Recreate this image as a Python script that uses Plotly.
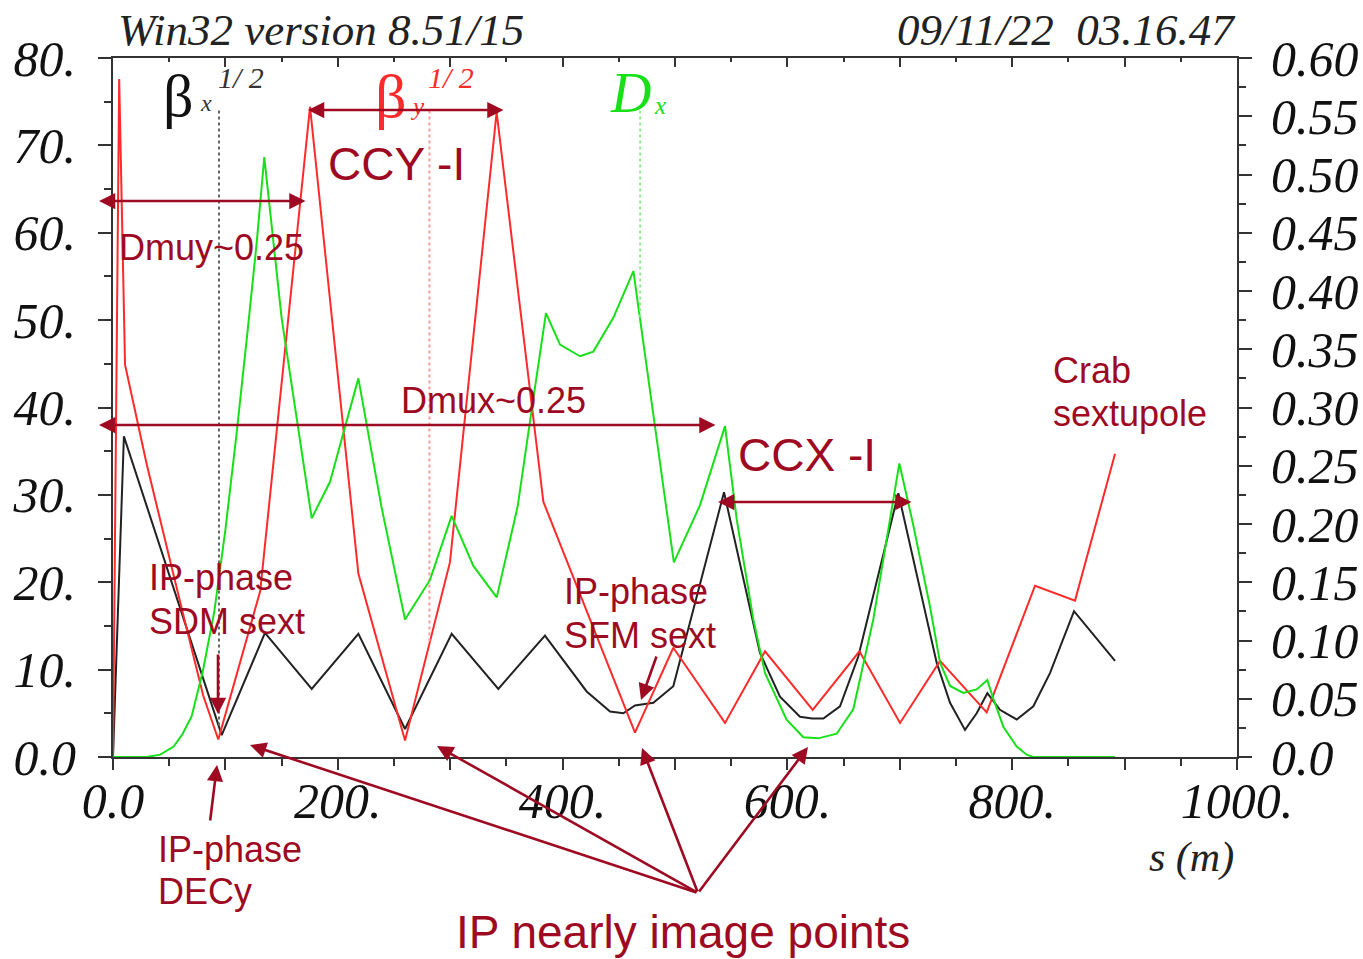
import numpy as np
import plotly.graph_objects as go

# ---- optics along the beamline (s in m) ----
s_bx = [0, 9.7, 96.7, 135.2, 176.8, 218.3, 259.8, 301.3, 342.8, 384.3, 421.4, 442.2,
        454, 464.4, 480.7, 498.5, 543.6, 575.6, 593.4, 611.2, 622, 632, 646.8, 663.1,
        698.7, 732.8, 744.7, 758, 768.4, 777.9, 789.1, 804, 818.8, 833.6, 855, 891.5]
sqrt_betx = [0, 36.7, 2.5, 14.2, 7.8, 14.1, 3.2, 14.1, 7.8, 13.9, 7.5, 5.2,
             5.0, 5.9, 6.2, 8.1, 30.3, 11.9, 6.9, 4.6, 4.4, 4.4, 5.8, 11.5,
             30.2, 10.8, 6.2, 3.1, 5.0, 7.3, 5.4, 4.3, 5.8, 9.6, 16.7, 11.0]

s_by = [0, 5.5, 10.7, 30, 60, 80.3, 93.7, 131, 175.3, 218.3, 259.8, 299.8, 341.3,
        382.9, 464.4, 498.5, 544.5, 580.1, 622.5, 664.1, 700.2, 735.8, 777.3,
        820.3, 855.9, 891.5]
sqrt_bety = [0, 77.6, 44.9, 33.5, 17.6, 7.0, 2.0, 19.0, 74.4, 21.0, 1.9, 22.3, 73.8,
             29.2, 2.8, 12.5, 3.9, 12.1, 5.4, 12.1, 3.9, 11.0, 5.1,
             19.6, 17.9, 34.7]

s_dx = [0, 30, 42, 54, 62, 70, 80, 90, 100, 110, 120, 128, 134.6, 150, 176.8, 193,
        218.3, 239, 259.8, 282, 301.3, 320.6, 341.4, 360, 371, 385.2, 397.7, 415.5,
        427.3, 445.1, 463, 499, 522.2, 544.5, 554.9, 569.7, 580.1, 599.3, 614.2,
        627.5, 643.8, 658.6, 676.4, 699.6, 712, 726.9, 735.8, 744.7, 756.5, 768.4,
        777.9, 783.2, 792.1, 804, 812.9, 818.8, 891.5]
disp_x = [0.000, 0.000, 0.002, 0.009, 0.020, 0.035, 0.074, 0.124, 0.195, 0.278, 0.368,
          0.443, 0.515, 0.377, 0.205, 0.236, 0.325, 0.214, 0.118, 0.152, 0.207, 0.164,
          0.137, 0.215, 0.288, 0.381, 0.354, 0.344, 0.348, 0.377, 0.417, 0.167, 0.216,
          0.284, 0.204, 0.118, 0.072, 0.032, 0.017, 0.016, 0.020, 0.041, 0.118, 0.252,
          0.199, 0.129, 0.081, 0.061, 0.055, 0.058, 0.066, 0.050, 0.026, 0.009, 0.002,
          0.000, 0.000]

# label marker positions (s) and tick labels
mark_bx, mark_by, mark_dx = 94.3, 281.5, 469.0
mark_top = 74.0
x_ticks = [0, 100, 200, 300, 400, 500, 600, 700, 800, 900, 1000]
x_labels = ["0.0", "", "200.", "", "400.", "", "600.", "", "800.", "", "1000."]
y_ticks = [0, 10, 20, 30, 40, 50, 60, 70, 80]
y_labels = ["0.0", "10.", "20.", "30.", "40.", "50.", "60.", "70.", "80."]
y2_ticks = [0, 0.05, 0.10, 0.15, 0.20, 0.25, 0.30, 0.35, 0.40, 0.45, 0.50, 0.55, 0.60]
y2_labels = ["0.0", "0.05", "0.10", "0.15", "0.20", "0.25", "0.30", "0.35", "0.40",
             "0.45", "0.50", "0.55", "0.60"]

W, H = 1363, 959
ML, MR, MT, MB = 113, 126, 58, 202
PW, PH = W - ML - MR, H - MT - MB


def px(x):
    return (x - ML) / PW


def py(y):
    return (H - MB - y) / PH


BLACK = "#222222"
RED = "#ff2a2a"
GREEN = "#18e018"
DR = "#9e0a22"
SERIF = "Liberation Serif"
SANS = "Liberation Sans"
AX = "#333333"

fig = go.Figure()

fig.add_trace(go.Scatter(x=s_bx, y=sqrt_betx, mode="lines",
                         line=dict(color=BLACK, width=2), showlegend=False))
fig.add_trace(go.Scatter(x=s_by, y=sqrt_bety, mode="lines",
                         line=dict(color=RED, width=2), showlegend=False))
fig.add_trace(go.Scatter(x=s_dx, y=disp_x, mode="lines", yaxis="y2",
                         line=dict(color=GREEN, width=2), showlegend=False))

# dotted markers from the curve labels down to each curve
fig.add_trace(go.Scatter(x=[mark_bx, mark_bx],
                         y=[mark_top, float(np.interp(mark_bx, s_bx, sqrt_betx))],
                         mode="lines", line=dict(color="#666666", width=2, dash="dot"),
                         showlegend=False))
fig.add_trace(go.Scatter(x=[mark_by, mark_by],
                         y=[mark_top, float(np.interp(mark_by, s_by, sqrt_bety))],
                         mode="lines", line=dict(color="#ff9a9a", width=2, dash="dot"),
                         showlegend=False))
fig.add_trace(go.Scatter(x=[mark_dx, mark_dx],
                         y=[mark_top * 0.6 / 80, float(np.interp(mark_dx, s_dx, disp_x))],
                         yaxis="y2", mode="lines",
                         line=dict(color="#8ff08f", width=2, dash="dot"),
                         showlegend=False))
# top frame axis carrier
fig.add_trace(go.Scatter(x=[0], y=[0], xaxis="x2", mode="markers",
                         marker=dict(size=0.1, opacity=0), showlegend=False,
                         hoverinfo="skip"))

tickfont = dict(family=SERIF, size=50, style="italic", color="#111111")

fig.update_layout(
    width=W, height=H,
    margin=dict(l=ML, r=MR, t=MT, b=MB, autoexpand=False),
    paper_bgcolor="white", plot_bgcolor="white",
    xaxis=dict(range=[0, 1000], tickmode="array", tickvals=x_ticks, ticktext=x_labels,
               ticks="outside", ticklen=11, tickwidth=2, tickcolor=AX,
               minor=dict(tickvals=[50 + 100 * i for i in range(10)], ticks="outside",
                          ticklen=7, tickwidth=2, tickcolor=AX),
               showline=True, linecolor=AX, linewidth=2, showgrid=False, zeroline=False,
               tickfont=tickfont, ticklabelstandoff=-12, automargin=False,
               fixedrange=True),
    xaxis2=dict(range=[0, 1000], overlaying="x", side="top", anchor="y",
                tickmode="array", tickvals=x_ticks, ticks="inside", ticklen=9,
                tickwidth=2, tickcolor=AX,
                minor=dict(tickvals=[50 + 100 * i for i in range(10)], ticks="inside",
                           ticklen=4, tickwidth=2, tickcolor=AX),
                showticklabels=False, showline=True, linecolor=AX, linewidth=2,
                showgrid=False, zeroline=False, automargin=False, fixedrange=True),
    yaxis=dict(range=[0, 80], tickmode="array", tickvals=y_ticks, ticktext=y_labels,
               ticks="outside", ticklen=13, tickwidth=2, tickcolor=AX,
               minor=dict(tickvals=[5 + 10 * i for i in range(8)], ticks="outside",
                          ticklen=7, tickwidth=2, tickcolor=AX),
               showline=True, linecolor=AX, linewidth=2, showgrid=False, zeroline=False,
               tickfont=tickfont, ticklabelstandoff=12, automargin=False,
               fixedrange=True),
    yaxis2=dict(range=[0, 0.6], overlaying="y", side="right", anchor="x",
                tickmode="array", tickvals=y2_ticks, ticktext=y2_labels,
                ticks="outside", ticklen=13, tickwidth=2, tickcolor=AX,
                minor=dict(tickvals=[0.025 + 0.05 * i for i in range(12)], ticks="outside",
                           ticklen=7, tickwidth=2, tickcolor=AX),
                showline=True, linecolor=AX, linewidth=2, showgrid=False, zeroline=False,
                tickfont=tickfont, ticklabelstandoff=9, automargin=False,
                fixedrange=True),
)

ann = []


def text(t, x, y, size, color, family=SANS, xanchor="left", style="normal"):
    ann.append(dict(text=t, x=px(x), y=py(y), xref="paper", yref="paper",
                    xanchor=xanchor, yanchor="middle", showarrow=False,
                    font=dict(family=family, size=size, color=color, style=style)))


def arrow(tip, tail, both=False):
    ann.append(dict(text="", x=px(tip[0]), y=py(tip[1]), xref="paper", yref="paper",
                    ax=tail[0] - tip[0], ay=tail[1] - tip[1], showarrow=True,
                    arrowhead=2, arrowsize=1.25, arrowwidth=2.6, arrowcolor=DR,
                    arrowside="end+start" if both else "end", standoff=0,
                    startstandoff=0))


# header
text("Win32 version 8.51/15", 116, 30, 45, "#222222", family=SERIF, style="italic")
text("09/11/22  03.16.47", 1238, 30, 45, "#222222", family=SERIF, xanchor="right",
     style="italic")
text("s (m)", 1236, 858, 42, "#222222", family=SERIF, xanchor="right", style="italic")

# curve labels
text("β", 178, 96, 60, "#111111", family=SERIF, xanchor="center")
text("x", 206, 103, 24, "#333333", family=SERIF, xanchor="center", style="italic")
text("1/ 2", 216, 77, 30, "#333333", family=SERIF, style="italic")
text("β", 391, 96, 62, RED, family=SERIF, xanchor="center")
text("y", 417, 106, 25, RED, family=SERIF, xanchor="center", style="italic")
text("1/ 2", 426, 77, 30, RED, family=SERIF, style="italic")
text("D", 630, 93, 56, GREEN, family=SERIF, xanchor="center", style="italic")
text("x", 660, 105, 25, GREEN, family=SERIF, xanchor="center", style="italic")

# annotations
text("CCY -I", 326, 164, 46, DR)
text("Dmuy~0.25", 117, 248, 36, DR)
text("Dmux~0.25", 399, 400, 36, DR)
text("CCX -I", 736, 455, 46, DR)
text("Crab", 1051, 370, 36, DR)
text("sextupole", 1051, 413, 36, DR)
text("IP-phase", 147, 577, 36, DR)
text("SDM sext", 147, 621, 36, DR)
text("IP-phase", 562, 591, 36, DR)
text("SFM sext", 562, 635, 36, DR)
text("IP-phase", 156, 849, 36, DR)
text("DECy", 156, 892, 36, DR)
text("IP nearly image points", 454, 932, 46, DR)

arrow((308, 110), (505, 110), both=True)
arrow((99, 201), (307, 201), both=True)
arrow((99, 425), (717, 425), both=True)
arrow((718, 502), (913, 502), both=True)
arrow((218, 714), (218, 653))
arrow((641, 700), (657, 655))
arrow((217, 765), (210, 822))
for tip in [(250, 745), (437, 746), (642, 748), (808, 747)]:
    arrow(tip, (698, 893))

fig.update_layout(annotations=ann)
fig.write_html("out.html")
